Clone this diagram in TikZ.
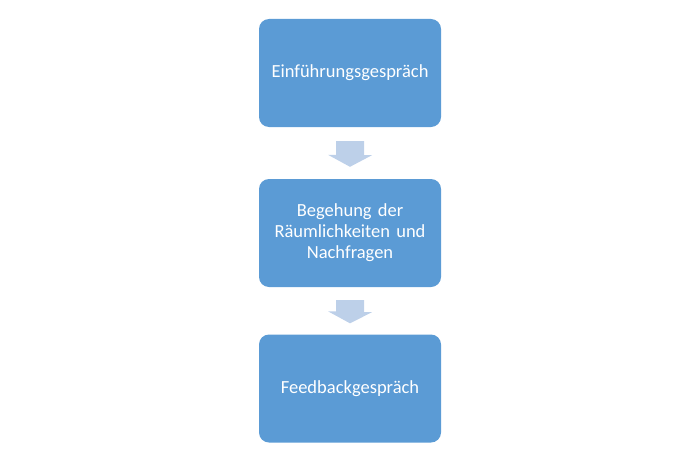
\documentclass[tikz,border=0pt]{standalone}
\usepackage{fontspec}
\setmainfont{Carlito}
\usetikzlibrary{calc}
\definecolor{boxblue}{HTML}{5B9BD5}
\definecolor{arrowblue}{HTML}{BDD0E9}
\tikzset{
  stepbox/.style={fill=boxblue, draw=none, rounded corners=10pt, minimum width=182pt, minimum height=108pt, text=white, align=center, font=\fontsize{18.5}{21}\selectfont, inner sep=0pt, text width=170pt},
  blockarrow/.style={fill=arrowblue, draw=none}
}
\begin{document}
\begin{tikzpicture}[x=1pt,y=1pt]
\useasboundingbox (0,0) rectangle (700,467);
\node[stepbox] (a) at (350,394) {Einführungsgespräch};
\node[stepbox] (b) at (350,234) {Begehung der\\Räumlichkeiten und\\Nachfragen};
\node[stepbox] (c) at (350,78.5) {Feedbackgespräch};
\fill[blockarrow] ($(a.south)+(-14,-14)$) -- ++(28,0) -- ++(0,-14) -- ++(8,0) -- ($(b.north)+(0,12)$) -- ++(-22,12) -- ++(8,0) -- cycle;
\fill[blockarrow] ($(b.south)+(-14,-13)$) -- ++(28,0) -- ++(0,-12) -- ++(8,0) -- ($(c.north)+(0,11)$) -- ++(-22,12) -- ++(8,0) -- cycle;
\end{tikzpicture}
\end{document}
